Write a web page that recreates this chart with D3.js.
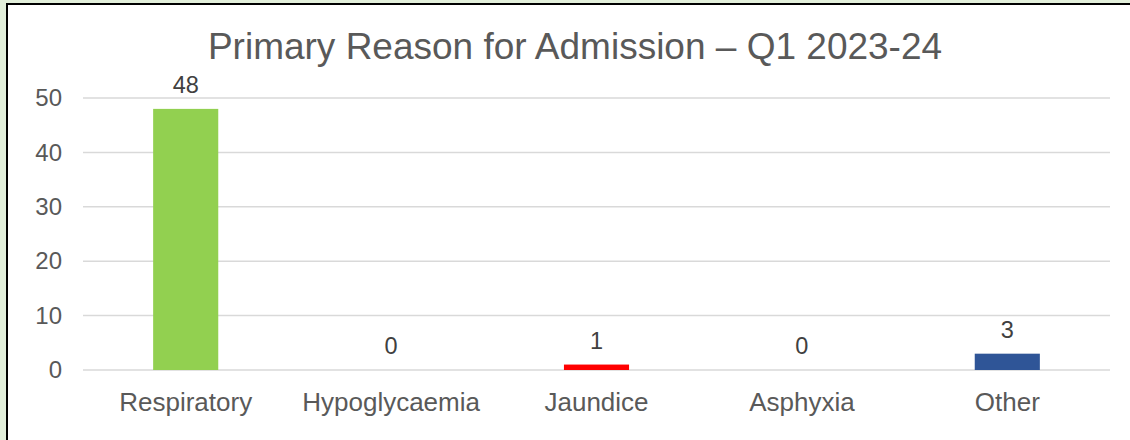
<!DOCTYPE html>
<html><head><meta charset="utf-8">
<script src="https://cdn.jsdelivr.net/npm/d3@7"></script>
<style>
html,body{margin:0;padding:0;background:#e2efda;}
svg{display:block;}
</style></head>
<body>
<svg id="c" width="1130" height="440"></svg>
<script>
const categories = ["Respiratory","Hypoglycaemia","Jaundice","Asphyxia","Other"];
const values = [48,0,1,0,3];
const colors = ["#92d050","#92d050","#ff0000","#2f5597","#2f5597"];
const yTicks = [0,10,20,30,40,50];
const title = "Primary Reason for Admission \u2013 Q1 2023-24";

const svg = d3.select("#c");
svg.append("rect").attr("x",7).attr("y",4).attr("width",1130).attr("height",440)
  .attr("fill","#fff").attr("stroke","#000").attr("stroke-width",2);

const font = "'Liberation Sans', Arial, sans-serif";
const x = d3.scaleBand().domain(categories).range([83,1110]).paddingInner(0.683).paddingOuter(0.3415);
const y = d3.scaleLinear().domain([0,50]).range([370,98]);

svg.append("text").attr("x",575).attr("y",59).attr("text-anchor","middle")
  .attr("font-family",font).attr("font-size",37).attr("fill","#595959").text(title);

const grid = svg.append("g");
grid.selectAll("line").data(yTicks).join("line")
  .attr("x1",83).attr("x2",1110).attr("y1",d=>y(d)).attr("y2",d=>y(d))
  .attr("stroke","#d9d9d9").attr("stroke-width",1.5);

const yAxis = svg.append("g").attr("transform","translate(62,0)")
  .call(d3.axisLeft(y).tickValues(yTicks).tickSize(0).tickPadding(0));
yAxis.select(".domain").remove();
yAxis.selectAll("text").attr("font-family",font).attr("font-size",24).attr("fill","#595959");

const xAxis = svg.append("g").attr("transform","translate(0,370)")
  .call(d3.axisBottom(x).tickSize(0).tickPadding(0));
xAxis.select(".domain").remove();
xAxis.selectAll("text").attr("font-family",font).attr("font-size",26).attr("fill","#595959")
  .attr("dy",null).attr("y",41);

svg.append("g").selectAll("rect").data(values).join("rect")
  .attr("x",(d,i)=>x(categories[i])).attr("width",x.bandwidth())
  .attr("y",d=>y(d)).attr("height",d=>y(0)-y(d))
  .attr("fill",(d,i)=>colors[i]);

svg.append("g").selectAll("text").data(values).join("text")
  .attr("x",(d,i)=>x(categories[i])+x.bandwidth()/2)
  .attr("y",d=>y(d)-16).attr("text-anchor","middle")
  .attr("font-family",font).attr("font-size",23.5).attr("fill","#404040")
  .text(d=>d);
</script>
</body></html>
